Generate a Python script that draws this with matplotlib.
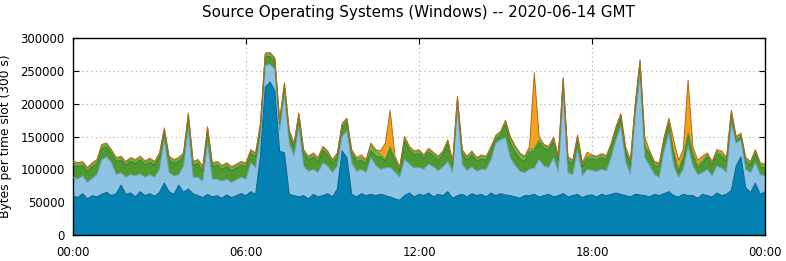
import numpy as np
import matplotlib
matplotlib.use("Agg")
import matplotlib.pyplot as plt

# values in kilobytes per 300 s slot, one point every 10 minutes (00:00 .. 24:00)
dark_blue_k = [
    60, 57, 63, 55, 60, 58, 62, 65, 60, 63, 76, 62, 64, 58, 66, 60, 63, 59, 65, 79,
    66, 62, 76, 65, 70, 63, 60, 57, 62, 58, 60, 56, 61, 57, 60, 63, 60, 66, 62, 120,
    225, 233, 220, 128, 125, 62, 60, 58, 60, 55, 62, 58, 60, 63, 58, 70, 128, 118, 62, 58,
    63, 60, 62, 60, 62, 60, 58, 55, 53, 60, 64, 58, 62, 60, 64, 58, 62, 60, 66, 56,
    60, 62, 58, 63, 60, 62, 58, 64, 60, 63, 61, 60, 58, 56, 60, 60, 62, 58, 60, 62,
    58, 60, 63, 58, 60, 62, 57, 60, 61, 58, 62, 60, 62, 64, 62, 60, 58, 62, 61, 60,
    58, 62, 60, 63, 66, 60, 58, 62, 60, 60, 56, 62, 60, 58, 64, 60, 62, 68, 105, 119,
    72, 65, 79, 62, 66,
]
light_blue_k = [
    28, 28, 27, 25, 26, 34, 53, 54, 50, 29, 19, 26, 28, 32, 27, 28, 29, 29, 35, 66,
    29, 28, 16, 40, 92, 25, 28, 25, 78, 27, 25, 26, 24, 23, 24, 25, 25, 44, 41, 30,
    33, 27, 32, 32, 90, 78, 60, 107, 45, 42, 38, 37, 50, 42, 37, 35, 22, 40, 48, 39,
    37, 35, 56, 46, 38, 42, 45, 41, 35, 55, 44, 44, 41, 40, 44, 46, 36, 44, 46, 39,
    135, 46, 40, 41, 37, 38, 42, 51, 80, 82, 87, 58, 48, 41, 35, 40, 40, 57, 45, 41,
    60, 36, 152, 37, 32, 68, 33, 40, 37, 39, 38, 38, 56, 81, 103, 52, 34, 118, 184, 58,
    47, 30, 28, 65, 89, 45, 30, 38, 75, 45, 36, 33, 40, 32, 41, 42, 33, 102, 35, 26,
    28, 30, 31, 30, 24,
]
green_k = [
    19, 19, 16, 17, 18, 17, 17, 15, 14, 20, 19, 18, 20, 19, 21, 19, 19, 18, 19, 12,
    19, 19, 20, 14, 18, 18, 21, 14, 19, 19, 21, 18, 19, 18, 18, 18, 19, 14, 16, 14,
    13, 12, 12, 9, 11, 14, 14, 15, 19, 17, 19, 17, 19, 17, 14, 14, 14, 14, 14, 15,
    14, 14, 10, 14, 19, 10, 28, 16, 10, 29, 21, 20, 21, 16, 18, 16, 16, 18, 27, 11,
    10, 16, 16, 18, 15, 16, 14, 14, 6, 7, 21, 22, 20, 19, 17, 26, 26, 26, 27, 26,
    25, 18, 19, 18, 16, 16, 14, 16, 18, 17, 18, 17, 16, 14, 14, 16, 16, 14, 16, 15,
    17, 14, 16, 15, 14, 18, 8, 16, 17, 17, 10, 15, 19, 16, 19, 17, 17, 14, 4, 4,
    12, 11, 14, 12, 12,
]
light_green_k = [4] * 145
for idx, v in {62: 10, 63: 8, 65: 3, 91: 8, 92: 8, 93: 7, 94: 6}.items():
    light_green_k[idx] = v
orange_k = [2] * 145
for idx, v in {27: 5, 60: 4, 64: 5, 65: 25, 66: 55, 67: 4, 95: 5, 96: 115, 97: 5,
               107: 6, 119: 12, 124: 5, 125: 18, 126: 14, 127: 10, 128: 80,
               129: 8, 130: 8, 131: 6, 135: 5}.items():
    orange_k[idx] = v

hours = np.arange(145) / 6.0
tick_hours = [0, 6, 12, 18, 24]
tick_labels = ['00:00', '06:00', '12:00', '18:00', '00:00']

layers = np.array([dark_blue_k, light_blue_k, green_k, light_green_k, orange_k]) * 1000.0
fills = ['#0381b3', '#8dc4e4', '#4e9a2e', '#72b652', '#f4a21c']
edges = ['#05628a', '#6d9fbd', '#3d7d22', '#5a9a3c', '#b8661a']

fig = plt.figure(figsize=(7.86, 2.61), dpi=100)
ax = fig.add_axes([73 / 786, 1 - 235 / 261, 692 / 786, 197 / 261])

ax.stackplot(hours, layers, colors=fills, linewidth=0, zorder=2)
tops = np.cumsum(layers, axis=0)
for k in range(len(layers)):
    ax.plot(hours, tops[k], color=edges[k], linewidth=0.7, zorder=3)

ax.set_xlim(0, 24)
ax.set_ylim(0, 300000)
ax.set_xticks(tick_hours)
ax.set_xticklabels(tick_labels)
ax.set_yticks(np.arange(0, 300001, 50000))
ax.tick_params(direction='in', length=4, width=0.8, top=True, right=True,
               labelsize=8.4, colors='black')
ax.tick_params(axis='x', pad=8)
ax.tick_params(axis='y', pad=6)
ax.grid(True, linestyle=(0, (1, 3)), color='#a8a8a8', linewidth=0.8, zorder=0)
ax.set_axisbelow(True)
for s in ax.spines.values():
    s.set_linewidth(1.0)
ax.set_ylabel('Bytes per time slot (300 s)', fontsize=8.8)
ax.yaxis.set_label_coords(-0.088, 0.5)
fig.suptitle('Source Operating Systems (Windows) -- 2020-06-14 GMT', fontsize=10.9,
             x=0.532, y=0.98)

fig.savefig('out.png', dpi=100)
